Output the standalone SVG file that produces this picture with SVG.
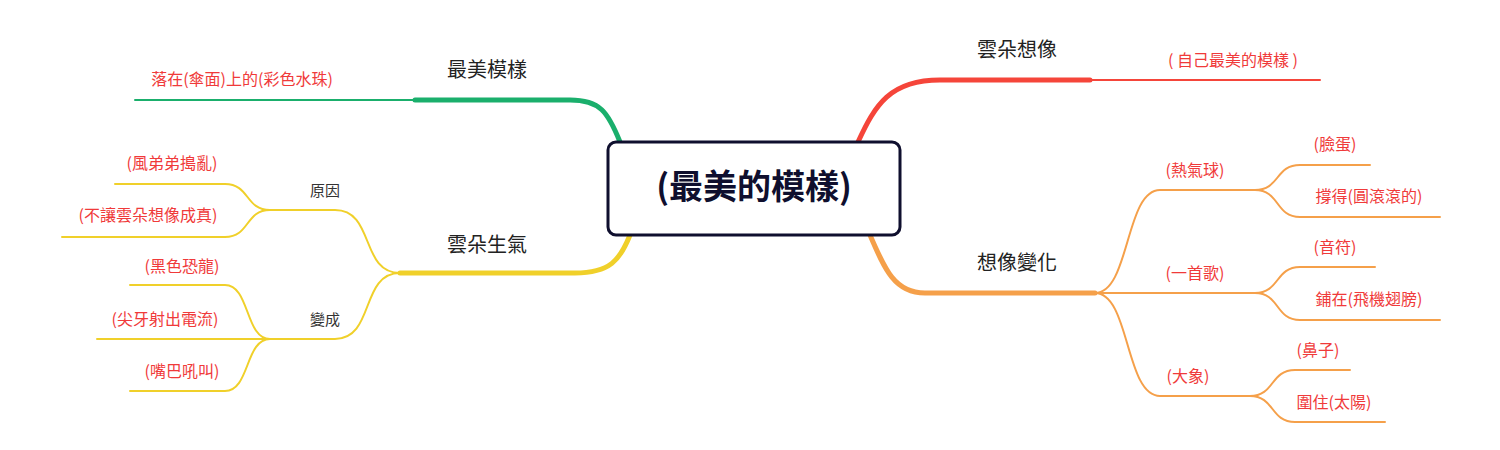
<svg xmlns="http://www.w3.org/2000/svg" width="1500" height="450" viewBox="0 0 1500 450">
<style>
text{font-family:"Noto Sans CJK TC","Noto Sans CJK SC",sans-serif;text-anchor:middle;dominant-baseline:middle}
.m{font-size:20px;fill:#222}
.s{font-size:15px;fill:#333}
.r{font-size:16px;fill:#f03a3a}
.c{fill:none;stroke-linecap:round}
.R{stroke:#f5453a}.G{stroke:#1aaf6c}.Y{stroke:#f0d02a}.O{stroke:#f5a04a}
</style>
<rect width="1500" height="450" fill="#fff"/>
<g id="connectors">
<path class="c R" stroke-width="5" d="M858,142 C875,105 890,80 940,80 L1090,80"/>
<path class="c R" stroke-width="2" d="M1090,80 L1320,80"/>
<path class="c G" stroke-width="5" d="M620,142 C608,112 600,100 570,100 L415,100"/>
<path class="c G" stroke-width="2" d="M415,100 L135,100"/>
<path class="c Y" stroke-width="5" d="M630,235 C620,260 610,273 575,273 L400,273"/>
<path class="c O" stroke-width="5" d="M870,235 C885,270 895,293 925,293 L1095,293"/>
<g class="c O" stroke-width="2">
<path d="M1095,293 C1130,293 1125,190 1160,190 L1255,190"/>
<path d="M1095,293 L1255,293"/>
<path d="M1095,293 C1130,293 1125,396 1160,396 L1250,396"/>
<path d="M1255,190 C1280,190 1275,165 1300,165 L1370,165"/>
<path d="M1255,190 C1280,190 1275,217 1300,217 L1440,217"/>
<path d="M1255,293 C1280,293 1275,267 1300,267 L1375,267"/>
<path d="M1255,293 C1280,293 1275,320 1300,320 L1440,320"/>
<path d="M1250,396 C1275,396 1270,370 1295,370 L1350,370"/>
<path d="M1250,396 C1275,396 1270,422 1295,422 L1385,422"/>
</g>
<g class="c Y" stroke-width="2">
<path d="M400,273 C360,273 375,210 335,210 L270,210"/>
<path d="M400,273 C360,273 375,339 335,339 L270,339"/>
<path d="M270,210 C245,210 250,184 225,184 L115,184"/>
<path d="M270,210 C245,210 250,237 225,237 L62,237"/>
<path d="M270,339 C245,339 250,285 225,285 L130,285"/>
<path d="M270,339 L97,339"/>
<path d="M270,339 C245,339 250,391 225,391 L130,391"/>
</g>
</g>
<g id="root"><rect x="608" y="142" width="292" height="93" rx="8" fill="#fff" stroke="#0f0f2e" stroke-width="3"/>
<text x="754" y="190" font-size="34" font-weight="bold" fill="#0f0f2e">(最美的模樣)</text></g>
<g id="n1"><text class="m" x="1017" y="52">雲朵想像</text></g>
<g id="n1a"><text class="r" x="1233" y="62">( 自己最美的模樣 )</text></g>
<g id="n2"><text class="m" x="1017" y="265">想像變化</text></g>
<g id="n2a"><text class="r" x="1195" y="172">(熱氣球)</text></g>
<g id="n2a1"><text class="r" x="1335" y="146">(臉蛋)</text></g>
<g id="n2a2"><text class="r" x="1369" y="198">撐得(圓滾滾的)</text></g>
<g id="n2b"><text class="r" x="1195" y="275">(一首歌)</text></g>
<g id="n2b1"><text class="r" x="1335" y="249">(音符)</text></g>
<g id="n2b2"><text class="r" x="1369" y="301">鋪在(飛機翅膀)</text></g>
<g id="n2c"><text class="r" x="1188" y="378">(大象)</text></g>
<g id="n2c1"><text class="r" x="1318" y="352">(鼻子)</text></g>
<g id="n2c2"><text class="r" x="1334" y="404">圍住(太陽)</text></g>
<g id="n3"><text class="m" x="487" y="72">最美模樣</text></g>
<g id="n3a"><text class="r" x="242" y="81">落在(傘面)上的(彩色水珠)</text></g>
<g id="n4"><text class="m" x="487" y="247">雲朵生氣</text></g>
<g id="n4a"><text class="s" x="325" y="192">原因</text></g>
<g id="n4a1"><text class="r" x="172" y="165">(風弟弟搗亂)</text></g>
<g id="n4a2"><text class="r" x="148" y="217">(不讓雲朵想像成真)</text></g>
<g id="n4b"><text class="s" x="325" y="321">變成</text></g>
<g id="n4b1"><text class="r" x="182" y="268">(黑色恐龍)</text></g>
<g id="n4b2"><text class="r" x="165" y="321">(尖牙射出電流)</text></g>
<g id="n4b3"><text class="r" x="182" y="373">(嘴巴吼叫)</text></g>
</svg>
